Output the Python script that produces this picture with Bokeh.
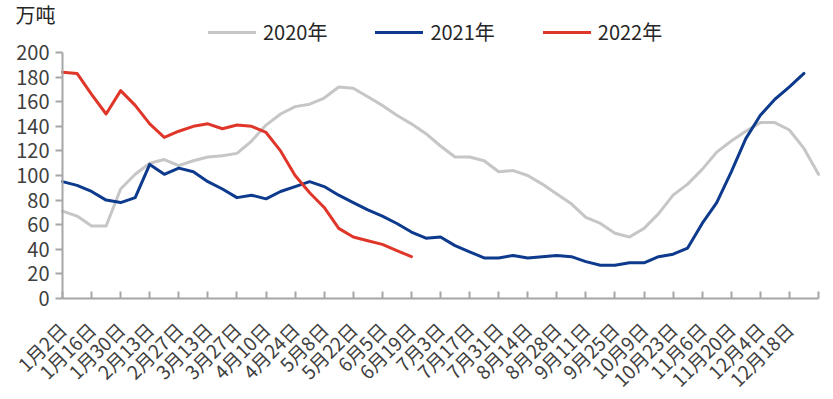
import math
from bokeh.plotting import figure
from bokeh.models import Range1d, FixedTicker, Legend, LegendItem, Label
from bokeh.embed import file_html
from bokeh.resources import INLINE

# ---- data (weekly, week index 0 = 1月2日) ----
tick_labels = ["1月2日", "1月16日", "1月30日", "2月13日", "2月27日", "3月13日", "3月27日",
               "4月10日", "4月24日", "5月8日", "5月22日", "6月5日", "6月19日", "7月3日",
               "7月17日", "7月31日", "8月14日", "8月28日", "9月11日", "9月25日", "10月9日",
               "10月23日", "11月6日", "11月20日", "12月4日", "12月18日"]

y2020 = [71, 67, 59, 59, 89, 101, 110, 113, 108, 112, 115, 116, 118, 128, 141, 150,
         156, 158, 163, 172, 171, 164, 157, 149, 142, 134, 124, 115, 115, 112, 103, 104,
         100, 93, 85, 77, 66, 61, 53, 50, 57, 69, 84, 93, 105, 119, 128, 136, 143, 143,
         137, 122, 101]
y2021 = [95, 92, 87, 80, 78, 82, 109, 101, 106, 103, 95, 89, 82, 84, 81, 87, 91, 95,
         91, 84, 78, 72, 67, 61, 54, 49, 50, 43, 38, 33, 33, 35, 33, 34, 35, 34, 30, 27,
         27, 29, 29, 34, 36, 41, 61, 78, 103, 130, 149, 162, 172, 183]
y2022 = [184, 183, 166, 150, 169, 157, 142, 131, 136, 140, 142, 138, 141, 140, 135, 120,
         100, 86, 74, 57, 50, 47, 44, 39, 34]

series_names = ["2020年", "2021年", "2022年"]
series_colors = ["#C6C6C6", "#0D3A8C", "#E0362A"]
unit_text = "万吨"

FONT = "Noto Sans CJK SC"
W, H = 833, 399
# pixel geometry of the plotting area (from top-left of canvas)
PX_LEFT, PX_RIGHT, PX_TOP, PX_BOTTOM = 62, 818, 52, 298
X_MAX, Y_MAX = 52, 200
sx = (PX_RIGHT - PX_LEFT) / X_MAX
sy = (PX_BOTTOM - PX_TOP) / Y_MAX
x_range = Range1d(-PX_LEFT / sx, X_MAX + (W - PX_RIGHT) / sx)
y_range = Range1d(-(H - PX_BOTTOM) / sy, Y_MAX + PX_TOP / sy)

p = figure(width=W, height=H, output_backend="svg", toolbar_location=None,
           min_border=0, x_range=x_range, y_range=y_range)
p.outline_line_color = None
p.xgrid.grid_line_color = None
p.ygrid.grid_line_color = None

renderers = []
for name, ys, col in zip(series_names, [y2020, y2021, y2022], series_colors):
    r = p.line(list(range(len(ys))), ys, line_color=col, line_width=3,
               line_join="round", line_cap="round")
    renderers.append(r)

# x axis
xa = p.xaxis[0]
xa.fixed_location = 0
xa.bounds = (0, X_MAX)
xa.ticker = FixedTicker(ticks=list(range(0, X_MAX + 1, 2)))
overrides = {2 * i: lab for i, lab in enumerate(tick_labels)}
overrides[X_MAX] = ""
xa.major_label_overrides = overrides
xa.major_label_orientation = math.pi / 4
xa.major_tick_in = 7
xa.major_tick_out = 0
xa.minor_tick_line_color = None
xa.axis_line_color = "#A6A6A6"
xa.axis_line_width = 2
xa.major_tick_line_color = "#A6A6A6"
xa.major_tick_line_width = 2
xa.major_label_text_font = FONT
xa.major_label_text_font_size = "19px"
xa.major_label_text_color = "#404040"
xa.major_label_standoff = 27

# y axis
ya = p.yaxis[0]
ya.fixed_location = 0
ya.bounds = (0, Y_MAX)
ya.ticker = FixedTicker(ticks=list(range(0, Y_MAX + 1, 20)))
ya.major_tick_in = 0
ya.major_tick_out = 7
ya.minor_tick_line_color = None
ya.axis_line_color = "#A6A6A6"
ya.axis_line_width = 2
ya.major_tick_line_color = "#A6A6A6"
ya.major_tick_line_width = 2
ya.major_label_text_font = FONT
ya.major_label_text_font_size = "20px"
ya.major_label_text_color = "#404040"
ya.major_label_standoff = 6

# unit label (screen px from bottom-left)
p.add_layout(Label(x=15, y=H - 14, x_units="screen", y_units="screen", text=unit_text,
                   text_font=FONT, text_font_size="20px", text_color="#262626",
                   text_align="left", text_baseline="middle"))

legend = Legend(items=[LegendItem(label=n, renderers=[r]) for n, r in zip(series_names, renderers)],
                orientation="horizontal", location=(208, H - 46),
                glyph_width=48, glyph_height=20, label_height=20,
                label_standoff=7, spacing=48, padding=0, margin=0,
                label_text_font=FONT, label_text_font_size="20px",
                label_text_color="#262626", label_text_baseline="middle",
                border_line_color=None, background_fill_alpha=0)
p.add_layout(legend, "center")

open("out.html", "w").write(file_html(p, INLINE))
